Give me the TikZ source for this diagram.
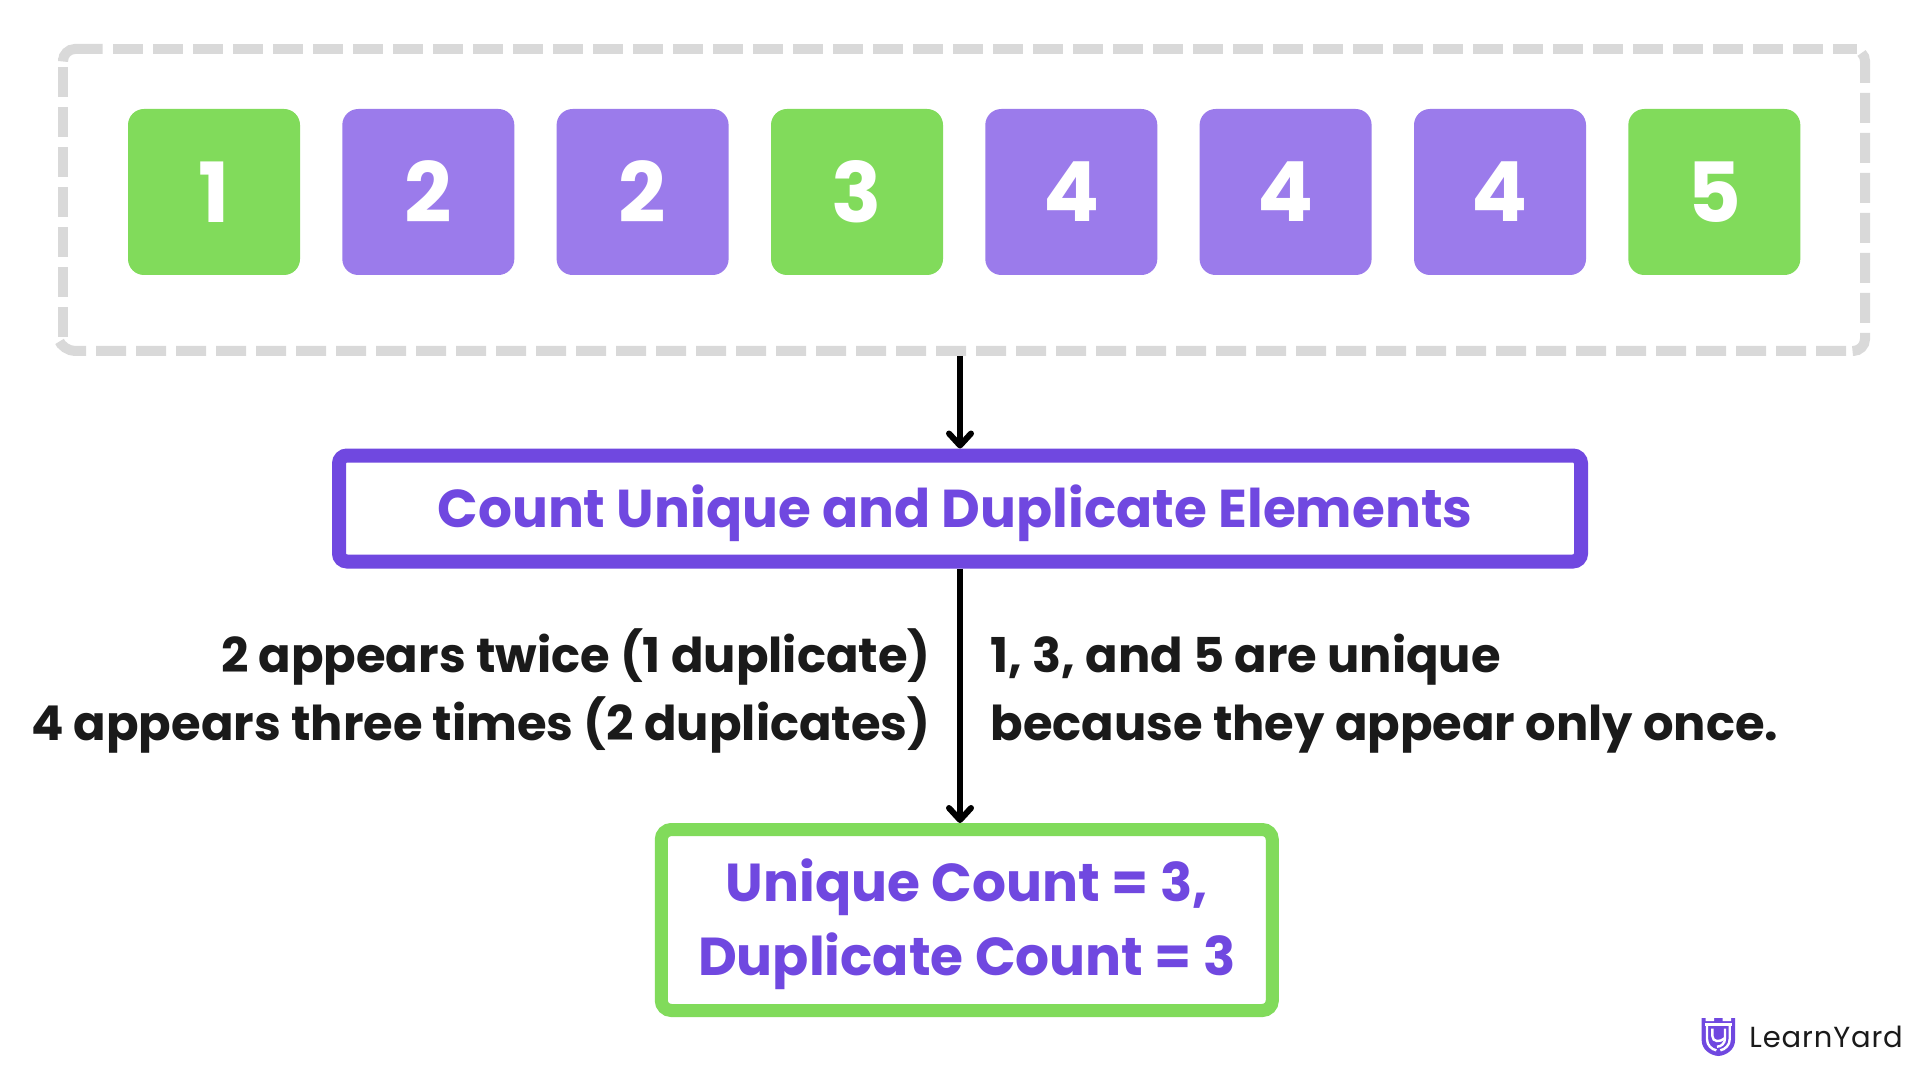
\documentclass[tikz,border=0pt]{standalone}
\usepackage{fontspec}
\setmainfont{Poppins}[UprightFont=* Bold,BoldFont=* Bold]
\newfontfamily\logofont{Poppins}[LetterSpace=3]
\usetikzlibrary{arrows.meta}
\definecolor{grn}{HTML}{81DB5B}
\definecolor{prp}{HTML}{9B7BEB}
\definecolor{deep}{HTML}{7048E0}
\definecolor{ink}{HTML}{1A1A1A}
\definecolor{dashgray}{HTML}{D9D9D9}
\tikzset{
 x=0.5pt,y=-0.5pt,
 frameedge/.style={dashgray,line width=5pt,rounded corners=6pt},
 framedash/.style={frameedge,dash pattern=on 15pt off 5pt},
 cell/.style={minimum width=86pt,minimum height=83pt,rounded corners=8pt,inner sep=0pt,text=white,font=\fontsize{41.5}{41.5}\selectfont},
 arrowline/.style={line width=3pt,draw=black,-{Straight Barb[length=6pt,width=11pt,line width=3pt,round]}},
 body/.style={text=ink,font=\fontsize{24}{33.65}\selectfont,inner sep=0pt},
 iconline/.style={white,line width=1.2pt},
}
\begin{document}
\begin{tikzpicture}
\useasboundingbox (0,0) rectangle (1920,1080);
\fill[white] (0,0) rectangle (1920,1080);
\draw[frameedge] (63,58) -- (63,49) -- (102.7,49);
\draw[framedash] (113,49) -- (1857,49);
\draw[dashgray,line width=5pt] (1861.5,53) .. controls (1864,55.5) and (1865,58) .. (1865,61) -- (1865,83);
\draw[framedash] (1865,93) -- (1865,351) -- (1855,351);
\draw[framedash] (1846,351) -- (63,351) -- (61,346);
\draw[framedash] (63,337) -- (63,67);
\foreach \n/\v/\c/\xx in {a/1/grn/214,b/2/prp/428.3,c/2/prp/642.6,d/3/grn/857,e/4/prp/1071.3,f/4/prp/1285.6,g/4/prp/1500,h/5/grn/1714.3}{
 \node[cell,fill=\c] (\n) at (\xx,192) {\v};
}
\coordinate (dash) at (960,356);
\node[draw=deep,line width=7pt,minimum width=621pt,minimum height=53pt,rounded corners=4pt,inner sep=0pt,text=deep,text height=20pt,text depth=1pt,font=\fontsize{26.65}{26.65}\selectfont] (count) at (960,508.5) {Count Unique and Duplicate Elements\hspace*{5pt}};
\node[draw=grn,line width=6.5pt,minimum width=305.5pt,minimum height=90.5pt,rounded corners=5pt,inner sep=0pt,text=deep,font=\fontsize{26.7}{36.7}\selectfont,align=center,text depth=3pt] (res) at (966.8,920) {Unique Count = 3,\\Duplicate Count = 3};
\draw[arrowline] (dash) -- (count.north);
\draw[arrowline] (count.south) -- (count.south |- res.north);
\node[body,anchor=base east,align=right] (left) at (931,740) {2 appears twice (1 duplicate)\\4 appears three times (2 duplicates)};
\node[body,anchor=base west,align=left] (right) at (990,740) {1, 3, and 5 are unique\\because they appear only once.};
\node[anchor=west,inner sep=0pt,text=ink,font=\logofont\fontsize{14.5}{14.5}\selectfont] (logo) at (1749,1037) {LearnYard};
\begin{scope}[shift={(1695,1012)},x=0.1667pt,y=-0.1667pt]
\fill[deep] (20,18) -- (120,18) -- (120,85) .. controls (120,112) and (95,130) .. (70,132) .. controls (45,130) and (20,112) .. (20,85) -- cycle;
\fill[white] (32,18) rectangle (57,27) (83,18) rectangle (108,27);
\draw[iconline] (30,37) -- (110,37);
\draw[iconline] (36,37) -- (36,82) .. controls (36,100) and (50,112) .. (64,115);
\draw[iconline] (104,37) -- (104,82) .. controls (104,100) and (90,112) .. (76,115);
\draw[iconline] (52,50) -- (52,72) .. controls (52,90) and (75,92) .. (90,78);
\draw[iconline] (90,50) -- (90,78) .. controls (90,95) and (78,104) .. (66,104);
\end{scope}
\end{tikzpicture}
\end{document}
